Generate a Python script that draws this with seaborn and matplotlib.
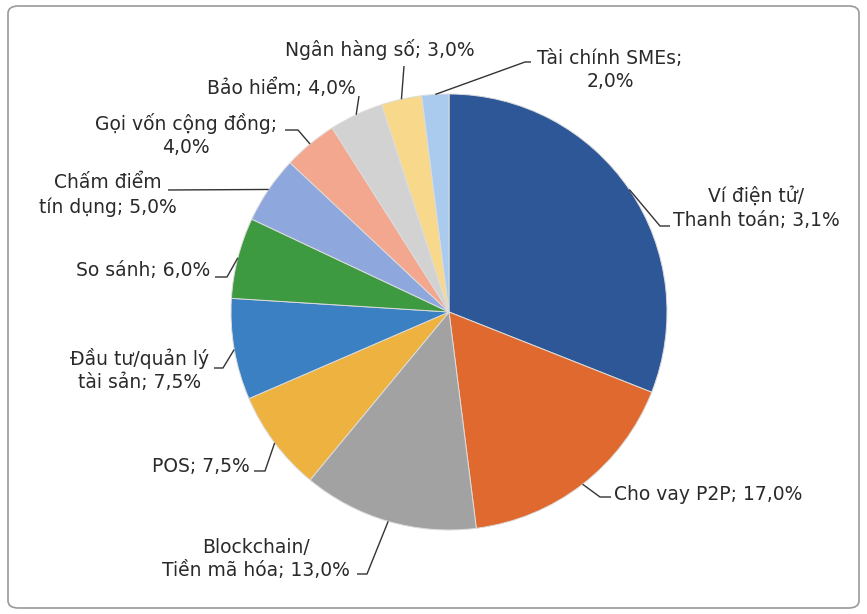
import numpy as np
import matplotlib
matplotlib.use("Agg")
import matplotlib.pyplot as plt
from matplotlib.patches import FancyBboxPatch
import seaborn as sns

# ---- data ----
categories = ["Ví điện tử/\nThanh toán", "Cho vay P2P", "Blockchain/\nTiền mã hóa", "POS",
              "Đầu tư/quản lý\ntài sản", "So sánh", "Chấm điểm\ntín dụng",
              "Gọi vốn cộng đồng", "Bảo hiểm", "Ngân hàng số", "Tài chính SMEs"]
values = [31.0, 17.0, 13.0, 7.5, 7.5, 6.0, 5.0, 4.0, 4.0, 3.0, 2.0]
pct_labels = ["3,1%", "17,0%", "13,0%", "7,5%", "7,5%", "6,0%", "5,0%", "4,0%", "4,0%", "3,0%", "2,0%"]
separators = ["; ", "; ", "; ", "; ", "; ", "; ", "; ", ";\n", "; ", "; ", ";\n"]
colors = ["#2D5797", "#E0692F", "#A2A2A2", "#EDB240", "#3A80C2", "#3E9A40",
          "#8EA7DC", "#F4A78F", "#D2D2D2", "#F8D98C", "#AACBEE"]

# ---- layout (pixels) ----
W, H = 867, 614
center = (449, 312)
radius = 218
# text anchor (x, y, ha)
text_pos = [(756, 208, "center"), (614, 494, "left"), (256, 559, "center"), (250, 467, "right"),
            (140, 370, "center"), (210, 270, "right"), (108, 195, "center"),
            (186, 135, "center"), (356, 88, "right"), (380, 50, "center"), (610, 70, "center")]
# leader: elbow point then end point
leader = [((660, 226), (670, 226)), ((600, 497), (611, 497)), ((367, 574), (357, 574)),
          ((265, 471), (254, 471)), ((223, 368), (214, 368)), ((227, 277), (215, 277)),
          ((168, 190), (168, 190)), ((298, 130), (285, 130)), ((359, 96), (359, 96)),
          ((404, 66), (404, 66)), ((525, 62), (531, 62))]

sns.set_theme(style="white")
plt.rcParams["font.family"] = ["DejaVu Sans"]

fig = plt.figure(figsize=(W / 100, H / 100), dpi=100)
fig.patch.set_facecolor("white")
ax = fig.add_axes([0, 0, 1, 1])

wedges, _ = ax.pie(values, colors=colors, startangle=-90, counterclock=True,
                   center=center, radius=radius,
                   wedgeprops=dict(edgecolor="#dcdcdc", linewidth=0.7))
ax.set_xlim(0, W)
ax.set_ylim(H, 0)
ax.set_aspect("equal")
ax.axis("off")

txt_color = "#2a2a2a"
for w, cat, sep, pct, (tx, ty, ha), (elb, end) in zip(wedges, categories, separators,
                                                       pct_labels, text_pos, leader):
    mid = np.deg2rad((w.theta1 + w.theta2) / 2)
    ex = center[0] + radius * np.cos(mid)
    ey = center[1] + radius * np.sin(mid)
    ax.plot([ex, elb[0], end[0]], [ey, elb[1], end[1]], color="#333333", lw=1.0,
            solid_capstyle="butt", zorder=3)
    ax.text(tx, ty, f"{cat}{sep}{pct}", ha=ha, va="center", multialignment="center",
            fontsize=13.5, color=txt_color, linespacing=1.3)

border = FancyBboxPatch((8 / W, 6 / H), (W - 16) / W, (H - 12) / H,
                        boxstyle="round,pad=0,rounding_size=0.012",
                        transform=fig.transFigure, fill=False,
                        edgecolor="#9a9a9a", linewidth=1.2)
fig.patches.append(border)

fig.savefig("out.png", dpi=100)
